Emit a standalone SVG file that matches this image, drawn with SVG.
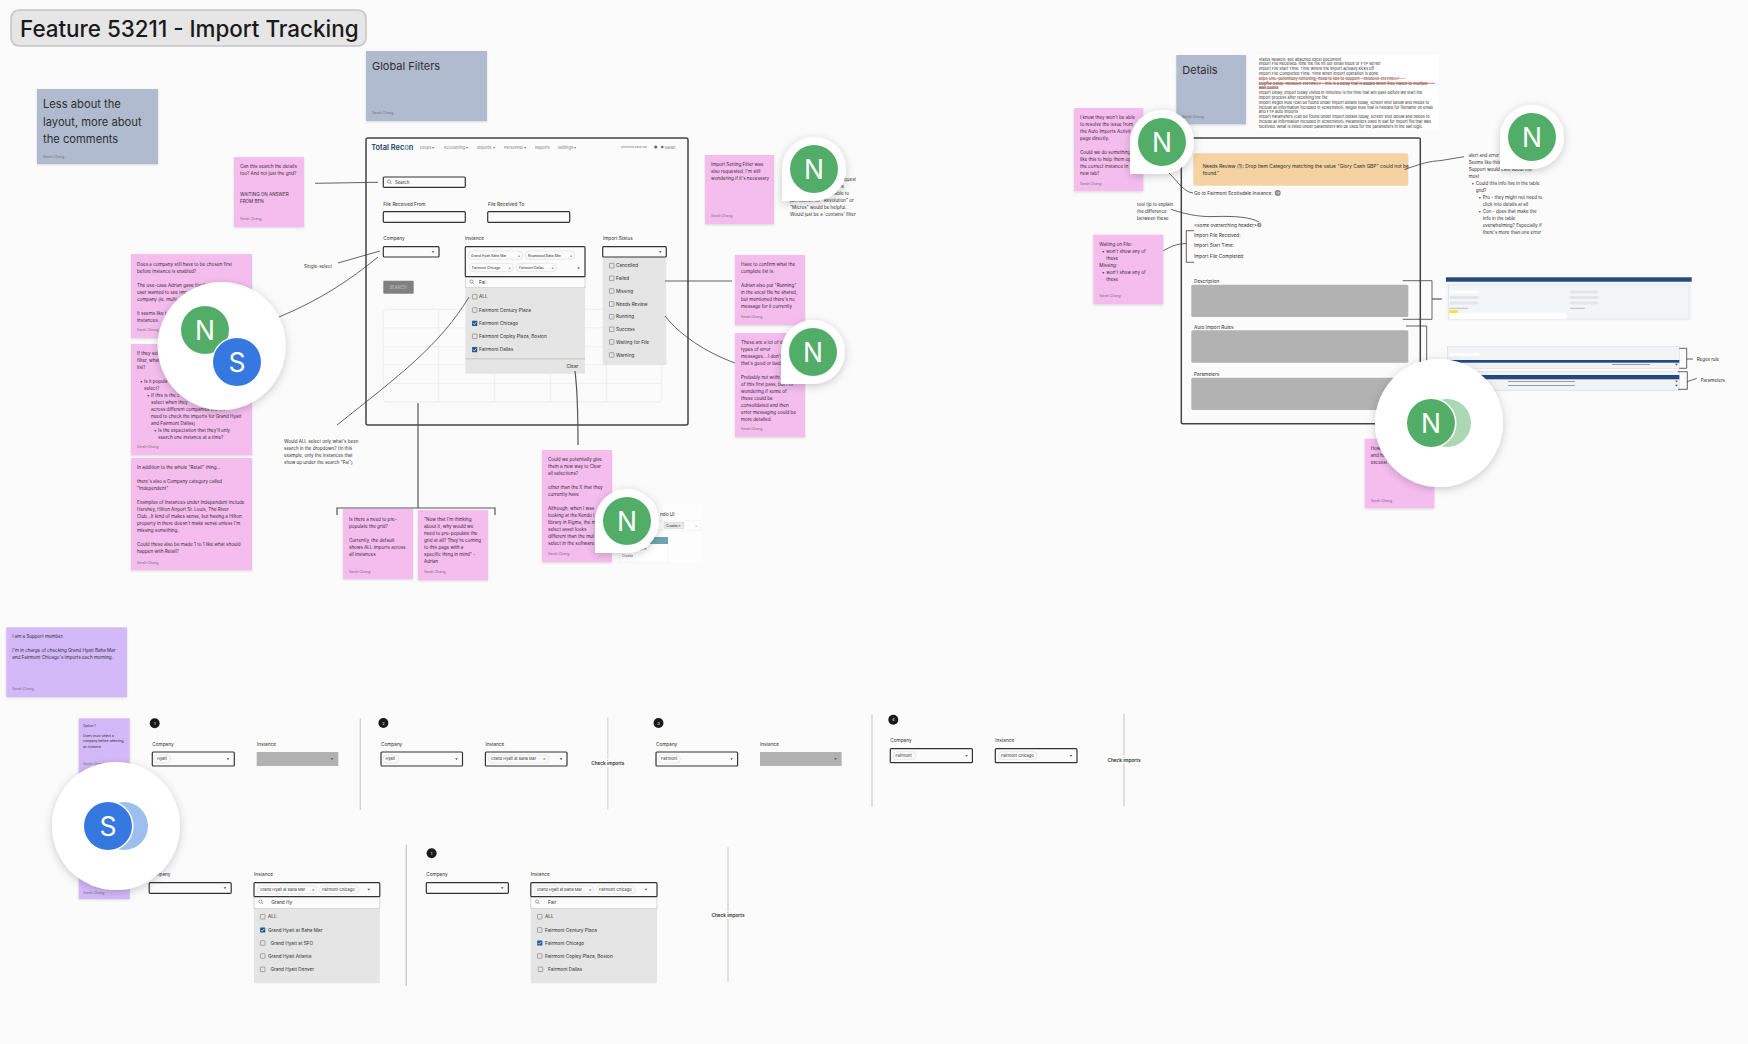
<svg xmlns="http://www.w3.org/2000/svg" xmlns:xlink="http://www.w3.org/1999/xlink" width="1748" height="1044" viewBox="0 0 1748 1044">
<style>
text{font-family:Inter,"Noto Sans","Liberation Sans",sans-serif;fill:#2e2e2e}
.b{font-size:4.55px}
.b text{fill:#3a2a3a}
.l{font-size:4.7px}
.m{font-size:4.5px}
.s{font-size:3.9px}
.a{font-size:3.5px}
text.a{fill:#77707a}
.pink{fill:#f4bdee;filter:url(#sh)}
.purple{fill:#d3b9f8;filter:url(#sh)}
.slate{fill:#b0bbcf;filter:url(#sh)}
.line{fill:none;stroke:#3c3c3c;stroke-width:.8}
.thick{fill:none;stroke:#555;stroke-width:1.2}
.box{fill:#fbfbfb;stroke:#333;stroke-width:1.2}
.off{fill:#b2b2b2}
.panel{fill:#e5e5e5}
.grey{fill:#b2b2b2}
.chip{fill:#fbfbfb;stroke:#d4d4d4;stroke-width:.5}
.div{stroke:#c8c8c8;stroke-width:1.1}
.frame{fill:none;stroke:#444;stroke-width:1.5}
.nav{font-size:4px}
text.nav{fill:#7a7a7a}
text.w{fill:#fff;font-size:26.5px;text-anchor:middle}
text.ck{font-weight:600;font-size:4.7px;text-anchor:middle}
text.num{fill:#fff;font-size:4px;text-anchor:middle}
</style>
<defs>
<filter id="sh" x="-10%" y="-10%" width="120%" height="125%"><feDropShadow dx="0" dy="1" stdDeviation="1" flood-color="#000" flood-opacity=".14"/></filter>
<filter id="av" x="-30%" y="-30%" width="160%" height="160%"><feDropShadow dx="0" dy="2" stdDeviation="4" flood-color="#000" flood-opacity=".2"/></filter>
<path id="pin" d="M-32 0A32 32 0 1 1 0 32H-32Z" fill="#fff" filter="url(#av)"/>
<path id="chev" d="M-1.4-.7H1.4L0 1Z" fill="#555"/>
<g id="cb"><rect x="-2.3" y="-2.3" width="4.6" height="4.6" rx=".5" fill="none" stroke="#777" stroke-width=".6"/></g>
<g id="cbx"><rect x="-2.6" y="-2.6" width="5.2" height="5.2" rx=".5" fill="#1f5a94"/><path d="M-1.5 0L-.4 1.2L1.6-1.2" fill="none" stroke="#fff" stroke-width=".7"/></g>
<g id="mag"><circle cx="-.5" cy="-.5" r="1.6" fill="none" stroke="#555" stroke-width=".5"/><path d="M.6.6L2 2" stroke="#555" stroke-width=".5"/></g>
</defs>
<rect width="1748" height="1044" fill="#fbfbfb"/>

<g id="title"><rect x="11" y="10" width="355" height="36" rx="8" fill="#e6e6e6" stroke="#c6c6c6" stroke-width="1.6"/><text x="20" y="37" font-size="22.4" font-weight="500" fill="#1a1a1a" style="fill:#1a1a1a">Feature 53211 - Import Tracking</text></g>

<g id="note-layout"><rect class="slate" x="37" y="89" width="121" height="75"/><text x="43" y="108" font-size="11.2">Less about the</text><text x="43" y="125.5" font-size="11.2">layout, more about</text><text x="43" y="143" font-size="11.2">the comments</text><text class="a" x="43" y="157.5">Sarah Chang</text></g>
<g id="note-global"><rect class="slate" x="366" y="51" width="121" height="70"/><text x="372" y="70" font-size="11">Global Filters</text><text class="a" x="372" y="114">Sarah Chang</text></g>

<g id="note-search" class="b"><rect class="pink" x="234" y="157" width="70" height="70"/><text x="240" y="168">Can this search the details</text><text x="240" y="175">too? And not just the grid?</text><text x="240" y="196">WAITING ON ANSWER</text><text x="240" y="203">FROM BEN</text><text class="a" x="240" y="220">Sarah Chang</text></g>

<g id="note-company" class="b"><rect class="pink" x="131" y="254" width="121" height="84"/><text x="137" y="265.7">Does a company still have to be chosen first</text><text x="137" y="272.7">before Instance is enabled?</text><text x="137" y="286.7">The use-case Adrian gave for th</text><text x="232" y="286.7">the</text><text x="137" y="293.7">user wanted to see imp</text><text x="137" y="300.7">company (ie. multi</text><text x="137" y="314.7">It seems like t</text><text x="137" y="321.7">instances.</text><text class="a" x="137" y="331">Sarah Chang</text></g>

<g id="note-filter" class="b"><rect class="pink" x="131" y="344" width="121" height="111"/><text x="137" y="354.7">If they sel</text><text x="137" y="361.7">filter, what</text><text x="137" y="368.7">list?</text><text x="140" y="382.7">•</text><text x="144" y="382.7">Is it popula</text><text x="144" y="389.7">select?</text><text x="147" y="396.7">•</text><text x="151" y="396.7">If this is the c</text><text x="151" y="403.7">select when they</text><text x="151" y="410.7">across different companies (i.e. if I</text><text x="151" y="417.7">need to check the imports for Grand Hyatt</text><text x="151" y="424.7">and Fairmont Dallas)</text><text x="154" y="431.7">•</text><text x="158" y="431.7">Is the expectation that they'll only</text><text x="158" y="438.7">search one instance at a time?</text><text class="a" x="137" y="448">Sarah Chang</text></g>

<g id="note-retail" class="b"><rect class="pink" x="131" y="458" width="121" height="112"/><text x="137" y="469">In addition to the whole "Retail" thing...</text><text x="137" y="483">there's also a Company category called</text><text x="137" y="490">"Independent"</text><text x="137" y="504">Examples of Instances under Independent include</text><text x="137" y="511">Hershey, Hilton Airport St. Louis, The River</text><text x="137" y="518">Club...It kind of makes sense, but having a Hilton</text><text x="137" y="525">property in there doesn't make sense unless I'm</text><text x="137" y="532">missing something.</text><text x="137" y="546">Could these also be made 1 to 1 like what should</text><text x="137" y="553">happen with Retail?</text><text class="a" x="137" y="563.5">Sarah Chang</text></g>

<g id="note-setting" class="b"><rect class="pink" x="705" y="155" width="69" height="69"/><text x="711" y="166">Import Setting Filter was</text><text x="711" y="173">also requested. I'm still</text><text x="711" y="180">wondering if it's necessary</text><text class="a" x="711" y="217">Sarah Chang</text></g>
<g id="text-setting" class="m"><text x="856" y="181" text-anchor="end">quest</text><text x="844" y="188" text-anchor="end">ans</text><text x="849" y="195" text-anchor="end">able to</text><text x="790" y="202">just search for "Revolution" or</text><text x="790" y="209">"Micros" would be helpful.</text><text x="790" y="216">Would just be a 'contains' filter</text></g>

<g id="note-confirm" class="b"><rect class="pink" x="735" y="255" width="70" height="70"/><text x="741" y="266">Have to confirm what the</text><text x="741" y="273">complete list is.</text><text x="741" y="287">Adrian also put "Running"</text><text x="741" y="294">in the excel file he shared,</text><text x="741" y="301">but mentioned there's no</text><text x="741" y="308">message for it currently</text><text class="a" x="741" y="318">Sarah Chang</text></g>
<g id="note-errors" class="b"><rect class="pink" x="735" y="333" width="70" height="104"/><text x="741" y="344">These are a lot of d</text><text x="741" y="351">types of error</text><text x="741" y="358">messages....I don't</text><text x="741" y="365">that's good or bad</text><text x="741" y="379">Probably not withi</text><text x="741" y="386">of this first pass, but I'm</text><text x="741" y="393">wondering if some of</text><text x="741" y="400">these could be</text><text x="741" y="407">consolidated and then</text><text x="741" y="414">error messaging could be</text><text x="741" y="421">more detailed.</text><text class="a" x="741" y="430">Sarah Chang</text></g>

<g id="note-clear" class="b"><rect class="pink" x="542" y="450" width="70" height="112"/><text x="548" y="461.3">Could we potentially give</text><text x="548" y="468.3">them a new way to Clear</text><text x="548" y="475.3">all selections?</text><text x="548" y="489">other than the X that they</text><text x="548" y="496">currently have</text><text x="548" y="509.7">Although, when I was</text><text x="548" y="516.7">looking at the Kendo l</text><text x="548" y="523.7">library in Figma, the m</text><text x="548" y="530.7">select asset looks</text><text x="548" y="537.7">different than the mul</text><text x="548" y="544.7">select in the software</text><text class="a" x="548" y="555">Sarah Chang</text></g>
<g id="kendo-shot"><rect x="612" y="505" width="90" height="57" fill="#fdfdfd"/><text class="l" x="660" y="516">ndo UI</text><rect x="620" y="521" width="81" height="9" fill="#fff" stroke="#e4e4e4" stroke-width=".4"/><rect x="664" y="522.5" width="20" height="6" fill="#e8e8e8" stroke="#bbb" stroke-width=".3"/><text x="666" y="527" font-size="3.4">Croatia ✕</text><text x="695" y="527" font-size="3.4" style="fill:#888">×</text><rect x="620" y="530" width="48" height="32" fill="#fff" stroke="#e8e8e8" stroke-width=".4"/><rect x="620" y="537" width="48" height="7" fill="#6ba5b0"/><text x="632" y="549.5" font-size="3.2" style="fill:#666">Philippine</text><text x="622" y="556.5" font-size="3.2" style="fill:#555">Croatia</text></g>

<g id="note-prepopulate" class="b"><rect class="pink" x="343" y="509" width="70" height="70"/><text x="349" y="520.7">Is there a need to pre-</text><text x="349" y="527.7">populate the grid?</text><text x="349" y="541.7">Currently, the default</text><text x="349" y="548.7">shows ALL imports across</text><text x="349" y="555.7">all instances</text><text class="a" x="349" y="572.5">Sarah Chang</text></g>
<g id="note-adrian" class="b"><rect class="pink" x="418" y="510" width="70" height="70"/><text x="424" y="521.3">"Now that I'm thinking</text><text x="424" y="528.3">about it, why would we</text><text x="424" y="535.3">need to pre-populate the</text><text x="424" y="542.3">grid at all? They're coming</text><text x="424" y="549.3">to this page with a</text><text x="424" y="556.3">specific thing in mind" -</text><text x="424" y="563.3">Adrian</text><text class="a" x="424" y="573">Sarah Chang</text></g>

<g id="text-all" class="m"><text x="284" y="442.7">Would ALL select only what's been</text><text x="284" y="449.7">search in the dropdown? (In this</text><text x="284" y="456.7">example, only the instances that</text><text x="284" y="463.7">show up under the search "Fai")</text></g>
<text id="text-single" class="m" x="304" y="267.7">Single-select</text>

<g id="screen-filters">
<rect class="frame" x="366" y="138" width="322" height="287" rx="2" fill="#fbfbfb"/>
<text x="371.3" y="149.5" font-size="7.4" font-weight="600" style="fill:#1d3b66">Total Rec<tspan style="fill:#38a3b5">o</tspan>n</text>
<g class="nav"><text class="nav" x="420" y="148.6">Drops ▾</text><text class="nav" x="443.7" y="148.6">Accounting ▾</text><text class="nav" x="477" y="148.6">Imports ▾</text><text class="nav" x="504" y="148.6">Personnel ▾</text><text class="nav" x="535" y="148.6">Reports</text><text class="nav" x="557.7" y="148.6">Settings ▾</text><text class="nav" x="621" y="148.4" style="font-size:2.7px">Rosewood Baha Mar</text><circle cx="655.7" cy="147" r="1.6" fill="#666"/><circle cx="662.3" cy="147" r="1.3" fill="#666"/><text class="nav" x="664.5" y="148.6">Sarah</text></g>
<rect class="box" x="383.3" y="177" width="82" height="10.3" rx="1"/><use href="#mag" x="389.5" y="182"/><text class="l" x="395" y="184" style="font-size:4.3px">Search</text>
<text class="l" x="383.3" y="205.7">File Received From</text><text class="l" x="488" y="205.7">File Received To</text>
<rect class="box" x="383.3" y="211.7" width="82" height="10.6" rx="1"/><rect class="box" x="487.7" y="211.7" width="82" height="10.6" rx="1"/>
<text class="l" x="383.3" y="240.4">Company</text><rect class="box" x="383.3" y="246.7" width="55.7" height="10.3" rx="1"/><use href="#chev" x="433" y="252"/>
<rect x="383.3" y="280.7" width="30.4" height="13" rx="1" fill="#808080"/><text x="389.6" y="288.8" font-size="4.2" style="fill:#c8c8c8">SEARCH</text>
<rect x="383.3" y="309.3" width="278.4" height="92.7" rx="3" fill="#fbfbfb" stroke="#eaeaea" stroke-width=".8"/>
<path d="M438.7 309.3V402M494.7 309.3V402M550.7 309.3V402M606.3 309.3V402M383.3 327.7H661.7M383.3 346.7H661.7M383.3 364.7H661.7M383.3 383.3H661.7" stroke="#eaeaea" stroke-width=".8" fill="none"/>
<text class="l" x="465" y="240.4">Instance</text>
<rect class="panel" x="465.3" y="287.7" width="119.7" height="86" rx="1"/>
<rect x="465.3" y="277" width="119.7" height="10.7" fill="#fbfbfb" stroke="#c8c8c8" stroke-width=".7"/>
<rect class="box" x="465.3" y="246.7" width="119.7" height="30" rx="1"/>
<rect class="chip" x="468.3" y="251" width="54.4" height="8.3" rx="4"/><rect class="chip" x="525" y="251" width="49.7" height="8.3" rx="4"/><rect class="chip" x="469" y="263.3" width="44.3" height="8.4" rx="4"/><rect class="chip" x="516" y="263.3" width="40.7" height="8.4" rx="4"/>
<text class="s" x="471" y="256.5" style="font-size:3.4px">Grand Hyatt Baha Mar</text><text class="s" x="518" y="256.5" style="font-size:3.4px">×</text><text class="s" x="528" y="256.5" style="font-size:3.4px">Rosewood Baha Mar</text><text class="s" x="570" y="256.5" style="font-size:3.4px">×</text><text class="s" x="472" y="268.8" style="font-size:3.4px">Fairmont Chicago</text><text class="s" x="508.5" y="268.8" style="font-size:3.4px">×</text><text class="s" x="519" y="268.8" style="font-size:3.4px">Fairmont Dallas</text><text class="s" x="551.5" y="268.8" style="font-size:3.4px">×</text>
<use href="#chev" x="578.7" y="268.3"/><use href="#mag" x="472" y="282"/><text class="l" x="479" y="284">Fai</text>
<use href="#cb" x="474.7" y="296.7"/><use href="#cb" x="474.7" y="310"/><use href="#cbx" x="474.7" y="323.3"/><use href="#cb" x="474.7" y="336.3"/><use href="#cbx" x="474.7" y="349.7"/>
<text class="l" x="479" y="298.4">ALL</text><text class="l" x="479" y="311.7">Fairmont Century Plaza</text><text class="l" x="479" y="325">Fairmont Chicago</text><text class="l" x="479" y="338">Fairmont Copley Plaza, Boston</text><text class="l" x="479" y="351.4">Fairmont Dallas</text>
<rect x="465.3" y="358" width="119.7" height="1.4" fill="#cdcdcd"/><text class="l" x="578.3" y="368" text-anchor="end">Clear</text>
<text class="l" x="603" y="240.4">Import Status</text>
<rect class="panel" x="602.7" y="257" width="63.6" height="108" rx="1"/><rect class="box" x="602.7" y="246.7" width="63.6" height="10.3" rx="1"/><use href="#chev" x="660.3" y="252"/>
<use href="#cb" x="611.7" y="265.7"/><use href="#cb" x="611.7" y="278.3"/><use href="#cb" x="611.7" y="291"/><use href="#cb" x="611.7" y="304"/><use href="#cb" x="611.7" y="316.7"/><use href="#cb" x="611.7" y="329.3"/><use href="#cb" x="611.7" y="342"/><use href="#cb" x="611.7" y="355"/>
<text class="l" x="616" y="267.4">Cancelled</text><text class="l" x="616" y="280">Failed</text><text class="l" x="616" y="292.7">Missing</text><text class="l" x="616" y="305.7">Needs Review</text><text class="l" x="616" y="318.4">Running</text><text class="l" x="616" y="331">Success</text><text class="l" x="616" y="343.7">Waiting for File</text><text class="l" x="616" y="356.7">Warning</text>
</g>

<g id="note-details"><rect class="slate" x="1176.3" y="55" width="69.7" height="69.3"/><text x="1182.3" y="74" font-size="11">Details</text><text class="a" x="1182.3" y="117.5">Sarah Chang</text></g>
<g id="text-fields"><rect x="1255.7" y="55" width="182.6" height="75.7" fill="#fff"/>
<g class="s"><text x="1258.7" y="60.5">Status Reason:  see attached excel document</text><text x="1258.7" y="65.3">Import File Received:  time the file hit our email inbox or FTP server</text><text x="1258.7" y="70.1">Import File Start Time:  Time where the import actually kicks off</text><text x="1258.7" y="74.9">Import File Completed Time: Time when import operation is done</text><text x="1258.7" y="79.7">Blips URL: potentially removing, need to talk to support - REMOVE ENTIRELY</text><text x="1258.7" y="84.5">Dupfile Delay: REMOVE ENTIRELY - this is a delay that is added when files match to multiple</text><text x="1258.7" y="89.3">wait points</text><text x="1258.7" y="94.1">Import Delay: Import Delay (listed in minutes) is the time that will pass before we start the</text><text x="1258.7" y="98.9">import process after receiving the file</text><text x="1258.7" y="103.7">Import Regex Rule (can be found under import details today, screen shot below and needs to</text><text x="1258.7" y="108.5">include all information included in screenshot):  Regex Rule that is needed for filename on email</text><text x="1258.7" y="113.3">and FTP auto imports</text><text x="1258.7" y="118.1">Import Parameters (can be found under import details today, screen shot below and needs to</text><text x="1258.7" y="122.9">include all information included in screenshot):  Parameters used in salt for import file that was</text><text x="1258.7" y="127.7">received.  What is listed under parameters will be used for the parameters in the salt logic</text></g>
<path d="M1258.7 78.5H1405.7" stroke="#f0a090" stroke-width=".8"/><path d="M1258.7 83.3H1435M1258.7 88H1278" stroke="#d9432c" stroke-width=".7"/></g>

<g id="screen-details">
<rect class="frame" x="1181.3" y="138" width="239" height="285.7" rx="1.5"/>
<rect x="1193.3" y="153.3" width="215" height="32.4" rx="2" fill="#f5d2a1"/>
<text x="1202.7" y="168" font-size="4.9">Needs Review (1): Drop Item Category matching the value "Glory Cash GBP" could not be</text><text x="1202.7" y="175" font-size="4.9">found."</text>
<text class="l" x="1194" y="194.7">Go to Fairmont Scottsdale Instance.</text><circle cx="1277.7" cy="193" r="3" fill="#8a8a8a"/><path d="M1276 193H1279.4M1278.2 191.8L1279.4 193L1278.2 194.2" stroke="#fff" stroke-width=".5" fill="none"/>
<text class="l" x="1194" y="226.7">&lt;some overarching header&gt;</text><circle cx="1259.3" cy="225" r="2.2" fill="#8a8a8a"/><text x="1258.5" y="226.6" font-size="3.4" style="fill:#fff">?</text>
<text class="l" x="1194" y="236.7">Import File Received:</text><text class="l" x="1194" y="247.4">Import Start Time:</text><text class="l" x="1194" y="258">Import File Completed:</text>
<text class="l" x="1194" y="283">Description</text><rect class="grey" x="1191.3" y="284.7" width="217" height="32.3" rx="1.5"/>
<text class="l" x="1194" y="328.7">Auto Import Rules</text><rect class="grey" x="1191.3" y="330.3" width="217" height="32.4" rx="1.5"/>
<text class="l" x="1194" y="375.7">Parameters</text><rect class="grey" x="1191.3" y="377.7" width="217" height="32.3" rx="1.5"/>
</g>
<g id="text-tooltip" class="m"><text x="1137" y="205.7">tool tip to explain</text><text x="1137" y="212.7">the difference</text><text x="1137" y="219.7">between these</text></g>

<g id="note-instance" class="b"><rect class="pink" x="1074" y="108" width="69.3" height="83.3"/><text x="1080" y="119">I know they won't be able</text><text x="1080" y="126">to resolve the issue from</text><text x="1080" y="133">the Auto Imports Activit</text><text x="1080" y="140">page directly.</text><text x="1080" y="154">Could we do something</text><text x="1080" y="161">like this to help them op</text><text x="1080" y="168">the correct instance in</text><text x="1080" y="175">new tab?</text><text class="a" x="1080" y="184.5">Sarah Chang</text></g>
<g id="note-waiting" class="b"><rect class="pink" x="1093.3" y="234.7" width="70" height="69.6"/><text x="1099.3" y="245.7">Waiting on File:</text><text x="1102" y="252.7">•</text><text x="1106.3" y="252.7">won't show any of</text><text x="1106.3" y="259.7">these</text><text x="1099.3" y="266.7">Missing:</text><text x="1102" y="273.7">•</text><text x="1106.3" y="273.7">won't show any of</text><text x="1106.3" y="280.7">these</text><text class="a" x="1099.3" y="297">Sarah Chang</text></g>
<g id="note-how" class="b"><rect class="pink" x="1364.7" y="438.7" width="69.6" height="69.6"/><text x="1370.7" y="450">How</text><text x="1370.7" y="457">and ho</text><text x="1370.7" y="464">excessi</text><text class="a" x="1370.7" y="501.5">Sarah Chang</text></g>
<g id="text-alert" class="m"><text x="1468.7" y="156.7">alert and error</text><text x="1468.7" y="163.7">Seems like this</text><text x="1468.7" y="170.7">Support would care about the</text><text x="1468.7" y="177.7">most</text><text x="1471.5" y="184.7">•</text><text x="1475.7" y="184.7">Could this info live in the table</text><text x="1475.7" y="191.7">grid?</text><text x="1478.5" y="198.7">•</text><text x="1482.7" y="198.7">Pro - they might not need to</text><text x="1482.7" y="205.7">click into details at all</text><text x="1478.5" y="212.7">•</text><text x="1482.7" y="212.7">Con - does that make the</text><text x="1482.7" y="219.7">info in the table</text><text x="1482.7" y="226.7">overwhelming? Especially if</text><text x="1482.7" y="233.7">there's more than one error</text></g>

<g id="shot-description"><rect x="1446" y="277.3" width="245.7" height="43.4" fill="#f4f5f7"/><rect x="1446" y="277.3" width="245.7" height="4.4" fill="#24497f"/><rect x="1448.5" y="285" width="240.5" height="34" fill="none" stroke="#d4d8de" stroke-width=".5"/><rect x="1450" y="290.5" width="28" height="3" fill="#fff"/><rect x="1450" y="296" width="28" height="3" fill="#e4e6ea"/><rect x="1450" y="301.5" width="28" height="3" fill="#e4e6ea"/><rect x="1570" y="290.5" width="28" height="3" fill="#e4e6ea"/><rect x="1570" y="296" width="28" height="3" fill="#e4e6ea"/><rect x="1570" y="301.5" width="28" height="3" fill="#e4e6ea"/><rect x="1449.3" y="310" width="8.4" height="3" fill="#f6e337"/><rect x="1449.3" y="313" width="117" height="6" fill="#fff"/><path d="M1449.5 308.3H1468M1570 308.3H1585" stroke="#8a9ab5" stroke-width=".6"/></g>
<g id="shot-regex"><rect x="1447.3" y="346.7" width="232" height="21.6" fill="#f2f3f5" stroke="#d4d8de" stroke-width=".5"/><rect x="1449" y="353" width="30" height="3" fill="#fff"/><rect x="1447.3" y="360" width="232" height="2.7" fill="#24497f"/><path d="M1612 364.5H1650" stroke="#777" stroke-width=".7"/><use href="#chev" x="1676.5" y="364.5"/></g>
<g id="shot-params"><rect x="1447.3" y="371.7" width="232" height="19" fill="#f2f3f5" stroke="#cfd3d9" stroke-width=".5"/><rect x="1447.3" y="375" width="232" height="4.3" fill="#24497f"/><path d="M1508 381.5H1575M1508 385.5H1575" stroke="#777" stroke-width=".7"/><use href="#chev" x="1676.5" y="381.5"/><use href="#chev" x="1676.5" y="385.5"/></g>
<g id="labels-shots" class="m"><text x="1696.7" y="360.7">Regex rule</text><text x="1700.7" y="382">Parameters</text></g>

<g id="connectors">
<path class="line" d="M315 183.3L378 182.3"/>
<path class="line" d="M338 263L380 251"/>
<path class="line" d="M279 317C320 300 350 280 378 257"/>
<path class="line" d="M337 425C400 375 440 345 469 297"/>
<path class="thick" d="M418 403V508"/>
<path class="thick" d="M337 515V508H495V515"/>
<path class="thick" d="M575 371Q578 395 578 445"/>
<path class="line" d="M665 281H732"/>
<path class="line" d="M665 316C680 335 705 352 735 363"/>
<path class="line" d="M1169 173C1178 182 1184 192 1193 193"/>
<path class="line" d="M1171 209.3C1190 216 1205 217 1215 216.5C1235 216 1250 217 1259 222"/>
<path class="line" d="M1194 230.7H1186.3V262.3H1194"/>
<path class="line" d="M1163.3 250.7C1172 246 1176 244 1186.3 243.5"/>
<path class="line" d="M1404.5 169.5C1420 164 1430 161 1440 160.7L1464 156.7"/>
<path class="line" d="M1402.7 280.7H1432V319.3H1402.7"/>
<path class="thick" d="M1432 299H1441.7"/>
<path class="line" d="M1406 326H1426.7V370"/>
<path class="line" d="M1679.3 348.3H1686.7V368.3H1679.3"/>
<path class="line" d="M1686.7 359H1693"/>
<path class="line" d="M1678 371.7H1687.3V389.3H1678"/>
<path class="line" d="M1687.3 381.7L1696.7 378.3"/>
</g>

<g id="note-support" class="b"><rect class="purple" x="6.3" y="627.3" width="120.7" height="69.7"/><text x="12.3" y="638">I am a Support member.</text><text x="12.3" y="652">I'm in charge of checking Grand Hyatt Baha Mar</text><text x="12.3" y="659">and Fairmont Chicago's imports each morning.</text><text class="a" x="12.3" y="690">Sarah Chang</text></g>
<g id="note-option" font-size="3.3"><rect class="purple" x="78.7" y="718.3" width="51" height="60"/><text x="83" y="726.5">Option 1</text><text x="83" y="737">Users must select a</text><text x="83" y="742.3">company before selecting</text><text x="83" y="747.6">an instance</text><text class="a" x="83" y="765">Sarah Chang</text></g>
<g id="note-option2"><rect class="purple" x="78.7" y="848" width="51" height="51"/><text class="a" x="83" y="894">Sarah Chang</text></g>

<g id="step-1"><circle cx="154.7" cy="723.3" r="5" fill="#1a1a1a"/><text class="num" x="154.7" y="724.8">1</text><text class="l" x="152.3" y="745.7">Company</text><rect class="box" x="152.3" y="752" width="82" height="14" rx="1"/><rect class="chip" x="154" y="755" width="16.7" height="8" rx="4"/><text class="s" x="157" y="760.3">Hyatt</text><use href="#chev" x="228" y="759"/><text class="l" x="257" y="745.7">Instance</text><rect class="off" x="256.7" y="752" width="81.6" height="14"/><use href="#chev" x="332" y="759"/></g>
<path id="divider-1" class="div" d="M360.3 718.3V810"/>
<g id="step-2"><circle cx="383.4" cy="723" r="5" fill="#1a1a1a"/><text class="num" x="383.4" y="724.5">2</text><text class="l" x="381" y="745.7">Company</text><rect class="box" x="381" y="752" width="81.5" height="14" rx="1"/><rect class="chip" x="383" y="755" width="16" height="8" rx="4"/><text class="s" x="385.5" y="760.3">Hyatt</text><use href="#chev" x="456.5" y="759"/><text class="l" x="485.4" y="745.7">Instance</text><rect class="box" x="485.4" y="752" width="81.6" height="14" rx="1"/><rect class="chip" x="488.4" y="755" width="60.6" height="8" rx="4"/><text class="s" x="491" y="760.3">Grand Hyatt at Baha Mar</text><text class="s" x="543" y="760.3">×</text><use href="#chev" x="561" y="759"/></g>
<path id="divider-2" class="div" d="M607.8 717.3V809.3" style="stroke-width:.8"/>
<g id="check-2"><rect x="590" y="759" width="36" height="8" fill="#fbfbfb"/><text class="ck" x="607.8" y="765">Check imports</text></g>
<g id="step-3"><circle cx="658.5" cy="723" r="5" fill="#1a1a1a"/><text class="num" x="658.5" y="724.5">3</text><text class="l" x="656" y="745.7">Company</text><rect class="box" x="656" y="752" width="81.6" height="14" rx="1"/><rect class="chip" x="658.5" y="755" width="21.9" height="8" rx="4"/><text class="s" x="661" y="760.3">Fairmont</text><use href="#chev" x="731.6" y="759"/><text class="l" x="760" y="745.7">Instance</text><rect class="off" x="760" y="752" width="81.6" height="14"/><use href="#chev" x="835.6" y="759"/></g>
<path id="divider-3" class="div" d="M872 714.7V806.7"/>
<g id="step-4"><circle cx="893.3" cy="719.7" r="5" fill="#1a1a1a"/><text class="num" x="893.3" y="721.2">4</text><text class="l" x="890.3" y="742.3">Company</text><rect class="box" x="890.3" y="748.7" width="82.1" height="14" rx="1"/><rect class="chip" x="893" y="751.7" width="22.7" height="8" rx="4"/><text class="s" x="895.5" y="757">Fairmont</text><use href="#chev" x="966.5" y="755.7"/><text class="l" x="995.3" y="742.3">Instance</text><rect class="box" x="995.3" y="748.7" width="81.7" height="14" rx="1"/><rect class="chip" x="998.3" y="751.7" width="38.7" height="8" rx="4"/><text class="s" x="1001" y="757">Fairmont Chicago</text><use href="#chev" x="1071" y="755.7"/></g>
<path id="divider-4" class="div" d="M1124 714V806"/>
<g id="check-4"><rect x="1106" y="755.5" width="36" height="8" fill="#fbfbfb"/><text class="ck" x="1124" y="761.8">Check imports</text></g>

<g id="step-b1"><text class="l" x="149.2" y="876.4">Company</text><rect class="box" x="149.2" y="882.7" width="82" height="10.6" rx="1"/><use href="#chev" x="225" y="888"/><text class="l" x="254" y="876.4">Instance</text>
<rect class="panel" x="254" y="908.3" width="125.8" height="75" rx="1"/><rect x="254" y="896.7" width="125.8" height="11.6" fill="#fbfbfb" stroke="#c8c8c8" stroke-width=".7"/><rect class="box" x="254" y="882.7" width="125.8" height="14" rx="1"/>
<rect class="chip" x="257.3" y="885.7" width="59.7" height="8" rx="4"/><text class="s" x="260" y="891">Grand Hyatt at Baha Mar</text><text class="s" x="312" y="891">×</text><rect class="chip" x="319.4" y="885.7" width="39.2" height="8" rx="4"/><text class="s" x="322" y="891">Fairmont Chicago</text><use href="#chev" x="368.8" y="889.5"/>
<use href="#mag" x="261" y="902"/><text class="l" x="271.2" y="904">Grand Hy</text>
<use href="#cb" x="262.7" y="916.7"/><use href="#cbx" x="262.7" y="930"/><use href="#cb" x="262.7" y="943"/><use href="#cb" x="262.7" y="956"/><use href="#cb" x="262.7" y="969.3"/>
<text class="l" x="268" y="918.4">ALL</text><text class="l" x="268" y="931.7">Grand Hyatt at Baha Mar</text><text class="l" x="270.4" y="944.7">Grand Hyatt at SFO</text><text class="l" x="268" y="957.7">Grand Hyatt Atlanta</text><text class="l" x="270.4" y="971">Grand Hyatt Denver</text></g>
<path id="divider-5" class="div" d="M406.3 844.7V985.7" style="stroke-width:1.3"/>
<g id="step-b2"><circle cx="431.6" cy="853.3" r="5" fill="#1a1a1a"/><text class="num" x="431.6" y="854.8">1</text><text class="l" x="426.3" y="876.4">Company</text><rect class="box" x="426.3" y="882.7" width="82.1" height="10.6" rx="1"/><use href="#chev" x="502.2" y="888"/><text class="l" x="530.8" y="876.4">Instance</text>
<rect class="panel" x="530.8" y="908.3" width="126.2" height="75" rx="1"/><rect x="530.8" y="896.7" width="126.2" height="11.6" fill="#fbfbfb" stroke="#c8c8c8" stroke-width=".7"/><rect class="box" x="530.8" y="882.7" width="126.2" height="14" rx="1"/>
<rect class="chip" x="534" y="885.7" width="59.7" height="8" rx="4"/><text class="s" x="536.7" y="891">Grand Hyatt at Baha Mar</text><text class="s" x="589" y="891">×</text><rect class="chip" x="596.5" y="885.7" width="38.8" height="8" rx="4"/><text class="s" x="599" y="891">Fairmont Chicago</text><use href="#chev" x="646" y="889.5"/>
<use href="#mag" x="537.5" y="902"/><text class="l" x="548" y="904">Fair</text>
<use href="#cb" x="539.8" y="916.7"/><use href="#cb" x="539.8" y="930"/><use href="#cbx" x="539.8" y="943"/><use href="#cb" x="539.8" y="956"/><use href="#cb" x="540.5" y="969.3"/>
<text class="l" x="545" y="918.4">ALL</text><text class="l" x="545" y="931.7">Fairmont Century Plaza</text><text class="l" x="545" y="944.7">Fairmont Chicago</text><text class="l" x="545" y="957.7">Fairmont Copley Plaza, Boston</text><text class="l" x="548" y="971">Fairmont Dallas</text></g>
<path id="divider-6" class="div" d="M728 847.3V981.7"/>
<g id="check-6"><rect x="710" y="911" width="36" height="8" fill="#fbfbfb"/><text class="ck" x="728" y="916.8">Check imports</text></g>

<g id="avatar-ns"><circle cx="221.7" cy="346" r="64" fill="#fff" filter="url(#av)"/><circle cx="205" cy="330" r="24" fill="#52ad68"/><text class="w" x="205" y="339.7">N</text><circle cx="237" cy="362" r="25.5" fill="#fff"/><circle cx="237" cy="362" r="24" fill="#3578e0"/><text class="w" x="237" y="371.7">S</text></g>
<g id="avatar-n1"><use href="#pin" x="814" y="169"/><circle cx="814" cy="169" r="24" fill="#52ad68"/><text class="w" x="814" y="178.7">N</text></g>
<g id="avatar-n2"><use href="#pin" x="813" y="352"/><circle cx="813" cy="352" r="24" fill="#52ad68"/><text class="w" x="813" y="361.7">N</text></g>
<g id="avatar-n3"><use href="#pin" x="627" y="521"/><circle cx="627" cy="521" r="24" fill="#52ad68"/><text class="w" x="627" y="530.7">N</text></g>
<g id="avatar-n4"><use href="#pin" x="1162" y="142"/><circle cx="1162" cy="142" r="24" fill="#52ad68"/><text class="w" x="1162" y="151.7">N</text></g>
<g id="avatar-n5"><use href="#pin" x="1532" y="137"/><circle cx="1532" cy="137" r="24" fill="#52ad68"/><text class="w" x="1532" y="146.7">N</text></g>
<g id="avatar-n-stack"><circle cx="1439" cy="423" r="64" fill="#fff" filter="url(#av)"/><circle cx="1447" cy="423" r="24" fill="#abd7b5"/><circle cx="1431" cy="423" r="25.5" fill="#fff"/><circle cx="1431" cy="423" r="24" fill="#52ad68"/><text class="w" x="1431" y="432.7">N</text></g>
<g id="avatar-s-stack"><circle cx="116" cy="826" r="64" fill="#fff" filter="url(#av)"/><circle cx="124" cy="826" r="24" fill="#9dbfee"/><circle cx="108" cy="826" r="25.5" fill="#fff"/><circle cx="108" cy="826" r="24" fill="#3578e0"/><text class="w" x="108" y="835.7">S</text></g>
</svg>
